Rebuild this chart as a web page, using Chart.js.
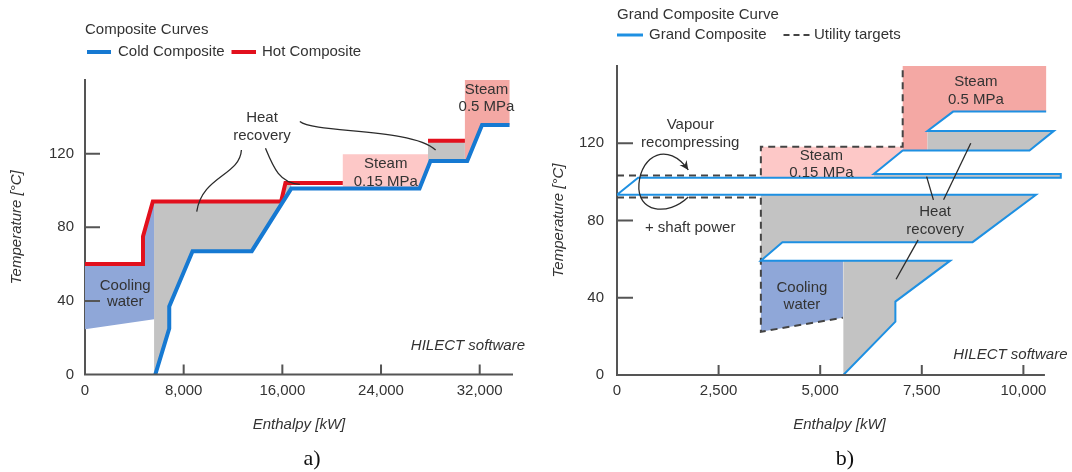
<!DOCTYPE html>
<html lang="en">
<head>
<meta charset="UTF-8">
<title>Composite Curves and Grand Composite Curve</title>
<script src="https://cdn.jsdelivr.net/npm/chart.js"></script>
<style>
    body {
        margin: 0;
        background: #ffffff;
    }

    #wrap {
        position: relative;
        width: 1072px;
        height: 472px;
    }

    #chartA { position: absolute; left: 0; top: 0; }
    #chartB { position: absolute; left: 540px; top: 0; }
</style>
</head>
<body>

<div id="wrap">
    <canvas id="chartA" width="540" height="472"></canvas>
    <canvas id="chartB" width="532" height="472"></canvas>
</div>

<script>
    // Tick labels
    const tempTicks = [0, 40, 80, 120];
    const enthalpyTicksA = [0, 8000, 16000, 24000, 32000];
    const enthalpyTicksB = [0, 2500, 5000, 7500, 10000];

    // a) Composite curves: enthalpy [kW] / temperature [°C]
    const coldH = [5700, 6830, 6830, 8720, 13520, 16720, 27120, 28010, 30990, 32190, 34420];
    const coldT = [0, 25, 37, 67, 67, 101, 101, 116, 116, 135.5, 135.5];
    const hotH1 = [0, 4700, 4700, 5500, 15900, 16250, 20900];
    const hotT1 = [60, 60, 75, 94, 94, 104, 104];
    const hotH2 = [27810, 30800];
    const hotT2 = [127, 127];

    // a) shaded regions
    const coolingAH = [0, 4700, 4700, 5500, 5600, 5600, 0];
    const coolingAT = [60, 60, 75, 94, 94, 30, 24.6];
    const recoveryA1H = [5600, 5600, 15900, 16250, 16720, 16720, 13520, 8720, 6830, 6830, 5700];
    const recoveryA1T = [0, 94, 94, 104, 104, 101, 67, 67, 37, 25, 0];
    const recoveryA2H = [27810, 30800, 30800, 28010, 27810];
    const recoveryA2T = [127, 127, 116, 116, 112.9];
    const steamLowAH = [20900, 27810, 27810, 27120, 20900];
    const steamLowAT = [119.6, 119.6, 112.9, 101, 101];
    const steamHighAH = [30800, 34420, 34420, 32190, 30990, 30800];
    const steamHighAT = [161.4, 161.4, 135.5, 135.5, 116, 116];

    // b) Grand composite curve and utility targets
    const gccH = [5570, 6850, 6850, 8200, 3540, 4070, 8750, 10310, 0, 520, 10920, 10920, 6320, 7030, 10150, 10750, 7640, 8270, 10560];
    const gccT = [0, 27.6, 38, 59.2, 59.2, 68.8, 68.8, 93.3, 93.3, 102.2, 102.2, 104.1, 104.1, 116.2, 116.2, 126.4, 126.4, 136.4, 136.4];
    const utilHotH = [0, 3540, 3540, 7030, 7030, 10560];
    const utilHotT = [103.3, 103.3, 118.2, 118.2, 160.5, 160.5];
    const utilColdH = [0, 3540, 3540, 5560];
    const utilColdT = [91.9, 91.9, 22.4, 29.7];

    // b) shaded regions
    const recoveryB1H = [3540, 10310, 8750, 4070, 3540];
    const recoveryB1T = [93.3, 93.3, 68.8, 68.8, 59.2];
    const recoveryB2H = [5570, 8200, 6850, 6850, 5570];
    const recoveryB2T = [59.2, 59.2, 38, 27.6, 0];
    const recoveryB3H = [6320, 10920, 10920, 6320];
    const recoveryB3T = [104.1, 104.1, 102.2, 102.2];
    const recoveryB4H = [7640, 10750, 10150, 7640];
    const recoveryB4T = [126.4, 126.4, 116.2, 116.2];
    const steamLowBH = [3540, 7030, 7030, 6320, 6320, 3540];
    const steamLowBT = [118.2, 118.2, 116.2, 104.1, 102.2, 102.2];
    const steamHighBH = [7030, 10560, 10560, 8270, 7640, 7640, 7030];
    const steamHighBT = [160.5, 160.5, 136.4, 136.4, 126.4, 116.2, 116.2];
    const coolingBH = [3540, 5560, 5560, 3540];
    const coolingBT = [59.2, 59.2, 29.7, 22.4];

    // Colours
    const BLUE = '#1679d2';
    const RED = '#e2101d';
    const GCC_BLUE = '#1e90e2';
    const GRAY = '#c3c3c3';
    const COOL = '#8fa7d8';
    const STEAM_LO = '#fdc8c7';
    const STEAM_HI = '#f4a8a4';
    const TEXT = '#333333';
    const AXIS = '#555555';
    const SANS = '"Liberation Sans", Arial, sans-serif';

    Chart.defaults.font.family = SANS;
    Chart.defaults.font.size = 15;
    Chart.defaults.color = TEXT;

    function pts(h, t) {
        return h.map((x, i) => ({ x: x, y: t[i] }));
    }

    function curve(h, t, color, width, dash) {
        return {
            data: pts(h, t),
            borderColor: color,
            borderWidth: width,
            borderDash: dash || [],
            borderJoinStyle: 'miter',
            pointRadius: 0,
            fill: false,
            order: dash ? 1 : 0
        };
    }

    function area(h, t, color) {
        return {
            data: pts(h, t),
            borderColor: 'transparent',
            borderWidth: 0,
            backgroundColor: color,
            pointRadius: 0,
            fill: 'shape',
            order: 3
        };
    }

    function scales(cfg) {
        return {
            x: {
                type: 'linear',
                min: 0,
                max: cfg.xMax,
                afterBuildTicks: s => { s.ticks = cfg.xTicks.map(v => ({ value: v })); },
                afterFit: s => { s.height = cfg.xHeight; },
                grid: { display: false, drawTicks: false },
                border: { display: false },
                ticks: {
                    padding: 7,
                    autoSkip: false,
                    maxRotation: 0,
                    color: TEXT,
                    callback: v => v.toLocaleString('en-US')
                },
                title: {
                    display: true,
                    text: 'Enthalpy [kW]',
                    color: TEXT,
                    font: { size: 15, style: 'italic' },
                    padding: { top: 0, bottom: 38.5 }
                }
            },
            y: {
                min: 0,
                max: 160,
                z: 1,
                afterBuildTicks: s => { s.ticks = tempTicks.map(v => ({ value: v })); },
                afterFit: s => { s.width = cfg.yWidth; },
                grid: { display: false, drawTicks: false },
                border: { display: true, color: AXIS, width: 2 },
                ticks: { padding: cfg.yPad, autoSkip: false, color: TEXT },
                title: {
                    display: true,
                    text: 'Temperature [°C]',
                    color: TEXT,
                    font: { size: 15, style: 'italic' },
                    padding: { top: cfg.yTitlePad, bottom: 0 }
                }
            }
        };
    }

    // Axis line, inward ticks, legend, notes and leader lines
    function decorations(cfg) {
        return {
            id: 'decor',
            afterDatasetsDraw(chart) {
                const ctx = chart.ctx;
                const a = chart.chartArea;
                const xs = chart.scales.x;
                const ys = chart.scales.y;
                const X = v => xs.getPixelForValue(v);
                const Y = v => ys.getPixelForValue(v);

                ctx.save();
                ctx.strokeStyle = AXIS;
                ctx.lineWidth = 2;
                ctx.beginPath();
                ctx.moveTo(a.left - 1, a.bottom);
                ctx.lineTo(X(cfg.axisEnd), a.bottom);
                xs.ticks.forEach(t => {
                    if (t.value > 0) {
                        ctx.moveTo(X(t.value), a.bottom);
                        ctx.lineTo(X(t.value), a.bottom - 10);
                    }
                });
                ys.ticks.forEach(t => {
                    if (t.value > 0) {
                        ctx.moveTo(a.left, Y(t.value));
                        ctx.lineTo(a.left + cfg.yTick, Y(t.value));
                    }
                });
                ctx.stroke();

                // leader lines
                ctx.strokeStyle = '#2b2b2b';
                ctx.lineWidth = 1.3;
                cfg.leaders.forEach(l => {
                    ctx.beginPath();
                    ctx.moveTo(X(l[0]), Y(l[1]));
                    if (l.length === 8) {
                        ctx.bezierCurveTo(X(l[2]), Y(l[3]), X(l[4]), Y(l[5]), X(l[6]), Y(l[7]));
                    } else {
                        ctx.lineTo(X(l[2]), Y(l[3]));
                    }
                    ctx.stroke();
                });

                // curved arrow (panel b)
                if (cfg.arrow) {
                    const p = cfg.arrow;
                    ctx.beginPath();
                    ctx.moveTo(X(p[0]), Y(p[1]));
                    ctx.bezierCurveTo(X(p[2]), Y(p[3]), X(p[4]), Y(p[5]), X(p[6]), Y(p[7]));
                    ctx.bezierCurveTo(X(p[8]), Y(p[9]), X(p[10]), Y(p[11]), X(p[12]), Y(p[13]));
                    ctx.stroke();
                    const tx = X(p[12]), ty = Y(p[13]);
                    const ang = Math.atan2(ty - Y(p[11]), tx - X(p[10]));
                    ctx.fillStyle = '#2b2b2b';
                    ctx.beginPath();
                    ctx.moveTo(tx, ty);
                    ctx.lineTo(tx - 10 * Math.cos(ang - 0.45), ty - 10 * Math.sin(ang - 0.45));
                    ctx.lineTo(tx - 6 * Math.cos(ang), ty - 6 * Math.sin(ang));
                    ctx.lineTo(tx - 10 * Math.cos(ang + 0.45), ty - 10 * Math.sin(ang + 0.45));
                    ctx.closePath();
                    ctx.fill();
                }

                // notes
                ctx.fillStyle = TEXT;
                ctx.textBaseline = 'middle';
                ctx.textAlign = 'center';
                ctx.font = '15px ' + SANS;
                cfg.notes.forEach(n => ctx.fillText(n[2], X(n[0]), Y(n[1])));
                ctx.textAlign = 'right';
                ctx.font = 'italic 15px ' + SANS;
                ctx.fillText('HILECT software', X(cfg.credit[0]), Y(cfg.credit[1]));

                // legend
                ctx.textAlign = 'left';
                ctx.font = '15px ' + SANS;
                ctx.fillText(cfg.legendTitle, a.left, cfg.legendY[0]);
                cfg.legendItems.forEach(it => {
                    ctx.strokeStyle = it.color;
                    ctx.lineWidth = it.width;
                    ctx.setLineDash(it.dash || []);
                    ctx.beginPath();
                    ctx.moveTo(a.left + it.x0, cfg.legendY[1]);
                    ctx.lineTo(a.left + it.x1, cfg.legendY[1]);
                    ctx.stroke();
                    ctx.setLineDash([]);
                    ctx.fillText(it.text, a.left + it.tx, cfg.legendY[1]);
                });

                // panel caption (x is relative to this canvas)
                ctx.textAlign = 'center';
                ctx.font = '22px "Liberation Serif", "Times New Roman", serif';
                ctx.fillStyle = '#111';
                ctx.fillText(cfg.caption, cfg.captionX, 459);
                ctx.restore();
            }
        };
    }

    // ---- a) Composite Curves ----
    new Chart(document.getElementById('chartA'), {
        type: 'line',
        data: {
            datasets: [
                curve(coldH, coldT, BLUE, 4),
                curve(hotH1, hotT1, RED, 4),
                curve(hotH2, hotT2, RED, 4),
                area(coolingAH, coolingAT, COOL),
                area(recoveryA1H, recoveryA1T, GRAY),
                area(recoveryA2H, recoveryA2T, GRAY),
                area(steamLowAH, steamLowAT, STEAM_LO),
                area(steamHighAH, steamHighAT, STEAM_HI)
            ]
        },
        options: {
            responsive: false,
            animation: false,
            layout: { padding: { top: 80, right: 27, bottom: 0, left: 0 } },
            plugins: { legend: { display: false }, tooltip: { enabled: false } },
            elements: { line: { tension: 0 } },
            scales: scales({ xMax: 34700, xTicks: enthalpyTicksA, xHeight: 97.5, yWidth: 85, yPad: 11, yTitlePad: 8 })
        },
        plugins: [decorations({
            axisEnd: 34700,
            yTick: 15,
            notes: [
                [14353, 139.2, 'Heat'], [14353, 129.6, 'recovery'],
                [24386, 114.4, 'Steam'], [24386, 104.8, '0.15 MPa'],
                [32552, 154.9, 'Steam'], [32552, 145.2, '0.5 MPa'],
                [3261, 48.4, 'Cooling'], [3261, 39.5, 'water']
            ],
            leaders: [
                [12681, 122, 12550, 108, 9500, 108, 9058, 88.5],
                [14632, 122.9, 15300, 112, 15800, 104, 17419, 103.3],
                [17419, 137.4, 18600, 131, 26500, 134, 28427, 122]
            ],
            credit: [35674, 15.4],
            legendTitle: 'Composite Curves',
            legendY: [30, 52],
            legendItems: [
                { text: 'Cold Composite', color: BLUE, width: 4, x0: 2, x1: 26, tx: 33 },
                { text: 'Hot Composite', color: RED, width: 4, x0: 146.5, x1: 171, tx: 177 }
            ],
            caption: 'a)',
            captionX: 312
        })]
    });

    // ---- b) Grand Composite Curve ----
    new Chart(document.getElementById('chartB'), {
        type: 'line',
        data: {
            datasets: [
                curve(gccH, gccT, GCC_BLUE, 2),
                curve(utilHotH, utilHotT, '#444', 2, [7, 5]),
                curve(utilColdH, utilColdT, '#444', 2, [7, 5]),
                area(recoveryB1H, recoveryB1T, GRAY),
                area(recoveryB2H, recoveryB2T, GRAY),
                area(recoveryB3H, recoveryB3T, GRAY),
                area(recoveryB4H, recoveryB4T, GRAY),
                area(steamLowBH, steamLowBT, STEAM_LO),
                area(steamHighBH, steamHighBT, STEAM_HI),
                area(coolingBH, coolingBT, COOL)
            ]
        },
        options: {
            responsive: false,
            animation: false,
            layout: { padding: { top: 66, right: 10, bottom: 0, left: 0 } },
            plugins: { legend: { display: false }, tooltip: { enabled: false } },
            elements: { line: { tension: 0 } },
            scales: scales({ xMax: 10950, xTicks: enthalpyTicksB, xHeight: 97, yWidth: 77, yPad: 13, yTitlePad: 9.5 })
        },
        plugins: [decorations({
            axisEnd: 10530,
            yTick: 16,
            notes: [
                [1803, 129.5, 'Vapour'], [1803, 120, 'recompressing'],
                [1800, 76, '+ shaft power'],
                [5029, 113.6, 'Steam'], [5029, 104.5, '0.15 MPa'],
                [8830, 151.7, 'Steam'], [8830, 142.5, '0.5 MPa'],
                [7828, 84.6, 'Heat'], [7828, 75.1, 'recovery'],
                [4550, 44.9, 'Cooling'], [4550, 36.3, 'water']
            ],
            leaders: [
                [7786, 90.7, 7619, 102.7],
                [8036, 90.7, 8705, 120],
                [7410, 70, 6867, 49.6]
            ],
            arrow: [1754, 92.2, 1250, 82, 480, 84, 540, 99, 600, 114, 1250, 121, 1754, 106.2],
            credit: [11085, 10.4],
            legendTitle: 'Grand Composite Curve',
            legendY: [15, 35],
            legendItems: [
                { text: 'Grand Composite', color: GCC_BLUE, width: 3, x0: 0, x1: 26, tx: 32 },
                { text: 'Utility targets', color: '#444', width: 2, dash: [6, 4], x0: 166.5, x1: 194, tx: 197 }
            ],
            caption: 'b)',
            captionX: 305
        })]
    });
</script>

</body>
</html>
